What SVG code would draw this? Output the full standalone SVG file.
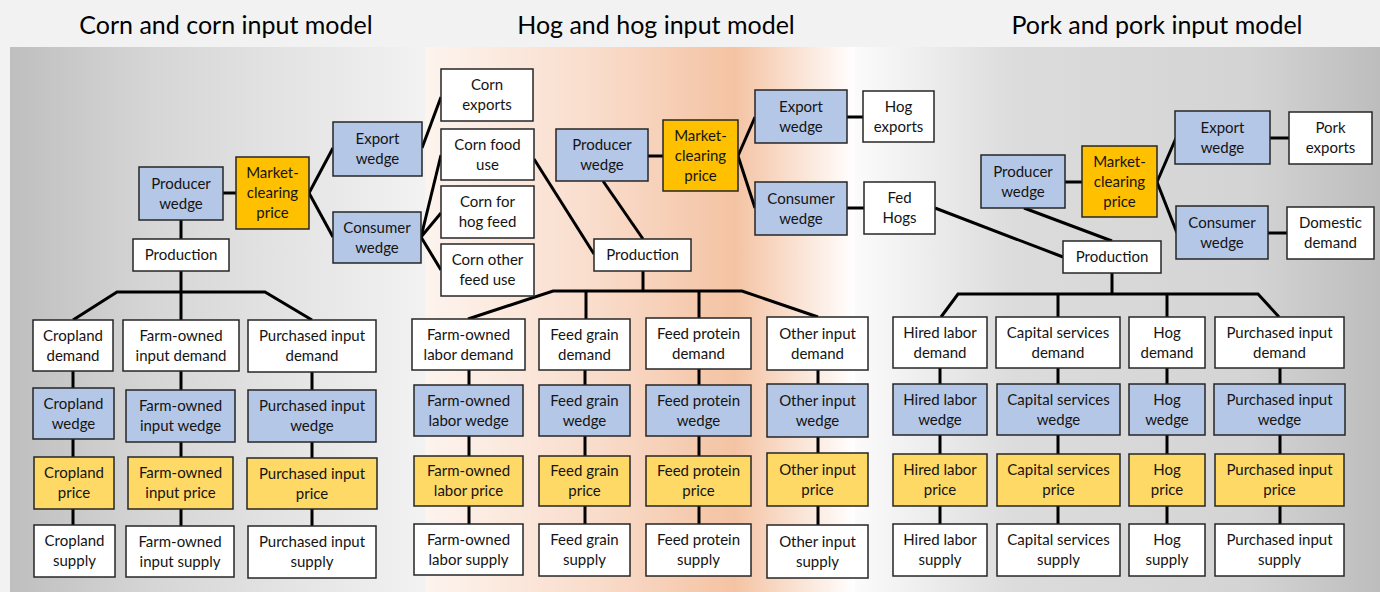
<svg xmlns="http://www.w3.org/2000/svg" width="1380" height="592" viewBox="0 0 1380 592">
<defs>
<linearGradient id="gL" x1="0" y1="0" x2="1" y2="0">
<stop offset="0" stop-color="#bfbfbf"/><stop offset="0.35" stop-color="#d6d6d6"/><stop offset="1" stop-color="#f2f2f2"/>
</linearGradient>
<linearGradient id="gM" x1="0" y1="0" x2="1" y2="0">
<stop offset="0" stop-color="#fdf4ee"/><stop offset="0.4" stop-color="#f9dccb"/><stop offset="0.72" stop-color="#f4c3a3"/><stop offset="1" stop-color="#ffffff"/>
</linearGradient>
<linearGradient id="gR" x1="0" y1="0" x2="1" y2="0">
<stop offset="0" stop-color="#fbfbfb"/><stop offset="0.3" stop-color="#dcdcdc"/><stop offset="0.75" stop-color="#d4d4d4"/><stop offset="1" stop-color="#bdbdbd"/>
</linearGradient>
</defs>
<style>
.bx rect{stroke:#262626;stroke-width:1.5}
.w rect{fill:#ffffff}
.b rect{fill:#b4c7e7}
.o rect{fill:#ffc000}
.y rect{fill:#ffd966}
text{font-family:Lato,"Open Sans",sans-serif;font-size:15px;text-anchor:middle;fill:#141414}
.title{font-size:25px;fill:#000}
#connectors line,#connectors polyline{stroke:#000;stroke-width:3;fill:none}
</style>
<rect x="0" y="0" width="1380" height="592" fill="#f2f2f2"/>
<rect x="10" y="47" width="415" height="545" fill="url(#gL)"/>
<rect x="425" y="47" width="430" height="545" fill="url(#gM)"/>
<rect x="855" y="47" width="525" height="545" fill="url(#gR)"/>
<text class="title" x="226" y="34">Corn and corn input model</text>
<text class="title" x="656" y="34">Hog and hog input model</text>
<text class="title" x="1157" y="34">Pork and pork input model</text>

<g id="connectors">
<!-- corn top -->
<line x1="223" y1="193" x2="236" y2="193"/>
<line x1="309" y1="193" x2="333" y2="148"/>
<line x1="309" y1="193" x2="333" y2="237"/>
<line x1="422" y1="148" x2="441" y2="97"/>
<line x1="421" y1="237" x2="441" y2="155"/>
<line x1="421" y1="237" x2="441" y2="213"/>
<line x1="421" y1="237" x2="441" y2="270"/>
<line x1="181" y1="220" x2="181" y2="239"/>
<line x1="181" y1="271" x2="181" y2="320"/>
<polyline points="73,320 117,292 265,292 312,320"/>
<!-- corn columns -->
<line x1="73" y1="371" x2="73" y2="388"/><line x1="73" y1="439" x2="73" y2="457"/><line x1="73" y1="509" x2="73" y2="525"/>
<line x1="181" y1="371" x2="181" y2="390"/><line x1="181" y1="442" x2="181" y2="457"/><line x1="181" y1="509" x2="181" y2="526"/>
<line x1="312" y1="372" x2="312" y2="390"/><line x1="312" y1="442" x2="312" y2="458"/><line x1="312" y1="509" x2="312" y2="526"/>
<!-- hog top -->
<line x1="648" y1="156" x2="663" y2="156"/>
<line x1="738" y1="156" x2="755" y2="117"/>
<line x1="738" y1="156" x2="755" y2="208"/>
<line x1="847" y1="117" x2="863" y2="117"/>
<line x1="847" y1="208" x2="864" y2="208"/>
<line x1="603" y1="181" x2="643" y2="239"/>
<line x1="534" y1="159" x2="594" y2="254"/>
<line x1="643" y1="271" x2="643" y2="291"/>
<polyline points="468,319 553,291 742,291 818,317"/>
<line x1="586" y1="291" x2="586" y2="319"/>
<line x1="699" y1="291" x2="699" y2="318"/>
<!-- hog columns -->
<line x1="469" y1="370" x2="469" y2="385"/><line x1="469" y1="436" x2="469" y2="456"/><line x1="469" y1="506" x2="469" y2="524"/>
<line x1="585" y1="370" x2="585" y2="385"/><line x1="585" y1="436" x2="585" y2="456"/><line x1="585" y1="506" x2="585" y2="524"/>
<line x1="699" y1="369" x2="699" y2="385"/><line x1="699" y1="436" x2="699" y2="456"/><line x1="699" y1="506" x2="699" y2="524"/>
<line x1="818" y1="370" x2="818" y2="384"/><line x1="818" y1="437" x2="818" y2="453"/><line x1="818" y1="506" x2="818" y2="525"/>
<!-- pork top -->
<line x1="1065" y1="182" x2="1082" y2="182"/>
<line x1="1157" y1="182" x2="1176" y2="138"/>
<line x1="1157" y1="182" x2="1177" y2="233"/>
<line x1="1270" y1="138" x2="1289" y2="138"/>
<line x1="1268" y1="233" x2="1287" y2="233"/>
<line x1="1024" y1="208" x2="1112" y2="241"/>
<line x1="935" y1="208" x2="1063" y2="257"/>
<line x1="1112" y1="273" x2="1112" y2="294"/>
<polyline points="941,317 958,294 1258,294 1279,317"/>
<line x1="1058" y1="294" x2="1058" y2="317"/>
<line x1="1167" y1="294" x2="1167" y2="317"/>
<!-- pork columns -->
<line x1="940" y1="368" x2="940" y2="384"/><line x1="940" y1="435" x2="940" y2="454"/><line x1="940" y1="506" x2="940" y2="524"/>
<line x1="1058" y1="368" x2="1058" y2="384"/><line x1="1058" y1="435" x2="1058" y2="454"/><line x1="1058" y1="506" x2="1058" y2="524"/>
<line x1="1167" y1="368" x2="1167" y2="384"/><line x1="1167" y1="435" x2="1167" y2="454"/><line x1="1167" y1="506" x2="1167" y2="524"/>
<line x1="1280" y1="368" x2="1280" y2="384"/><line x1="1280" y1="435" x2="1280" y2="454"/><line x1="1280" y1="506" x2="1280" y2="524"/>
</g>

<!-- CORN -->
<g id="corn-producer-wedge" class="bx b"><rect x="139" y="167" width="84" height="53"/><text><tspan x="181" y="188.5">Producer</tspan><tspan x="181" y="208.5">wedge</tspan></text></g>
<g id="corn-market-price" class="bx o"><rect x="236" y="157" width="73" height="72"/><text><tspan x="272.5" y="178">Market-</tspan><tspan x="272.5" y="198">clearing</tspan><tspan x="272.5" y="218">price</tspan></text></g>
<g id="corn-export-wedge" class="bx b"><rect x="333" y="122" width="89" height="54"/><text><tspan x="377.5" y="144">Export</tspan><tspan x="377.5" y="164">wedge</tspan></text></g>
<g id="corn-consumer-wedge" class="bx b"><rect x="333" y="212" width="88" height="51"/><text><tspan x="377" y="232.5">Consumer</tspan><tspan x="377" y="252.5">wedge</tspan></text></g>
<g id="corn-production" class="bx w"><rect x="133" y="239" width="96" height="32"/><text x="181" y="260">Production</text></g>
<g id="corn-exports" class="bx w"><rect x="441" y="69" width="92" height="52"/><text><tspan x="487" y="90">Corn</tspan><tspan x="487" y="110">exports</tspan></text></g>
<g id="corn-food-use" class="bx w"><rect x="441" y="129" width="93" height="51"/><text><tspan x="487.5" y="149.5">Corn food</tspan><tspan x="487.5" y="169.5">use</tspan></text></g>
<g id="corn-hog-feed" class="bx w"><rect x="441" y="186" width="93" height="52"/><text><tspan x="487.5" y="207">Corn for</tspan><tspan x="487.5" y="227">hog feed</tspan></text></g>
<g id="corn-other-feed" class="bx w"><rect x="441" y="244" width="93" height="52"/><text><tspan x="487.5" y="265">Corn other</tspan><tspan x="487.5" y="285">feed use</tspan></text></g>

<g id="cropland-demand" class="bx w"><rect x="33" y="320" width="80" height="51"/><text><tspan x="73" y="340.5">Cropland</tspan><tspan x="73" y="360.5">demand</tspan></text></g>
<g id="cropland-wedge" class="bx b"><rect x="33" y="388" width="81" height="51"/><text><tspan x="73.5" y="408.5">Cropland</tspan><tspan x="73.5" y="428.5">wedge</tspan></text></g>
<g id="cropland-price" class="bx y"><rect x="34" y="457" width="80" height="52"/><text><tspan x="74" y="478">Cropland</tspan><tspan x="74" y="498">price</tspan></text></g>
<g id="cropland-supply" class="bx w"><rect x="34" y="525" width="81" height="52"/><text><tspan x="74.5" y="546">Cropland</tspan><tspan x="74.5" y="566">supply</tspan></text></g>

<g id="farm-input-demand" class="bx w"><rect x="123" y="320" width="116" height="51"/><text><tspan x="181" y="340.5">Farm-owned</tspan><tspan x="181" y="360.5">input demand</tspan></text></g>
<g id="farm-input-wedge" class="bx b"><rect x="126" y="390" width="109" height="52"/><text><tspan x="180.5" y="411">Farm-owned</tspan><tspan x="180.5" y="431">input wedge</tspan></text></g>
<g id="farm-input-price" class="bx y"><rect x="128" y="457" width="105" height="52"/><text><tspan x="180.5" y="478">Farm-owned</tspan><tspan x="180.5" y="498">input price</tspan></text></g>
<g id="farm-input-supply" class="bx w"><rect x="126" y="526" width="108" height="51"/><text><tspan x="180" y="546.5">Farm-owned</tspan><tspan x="180" y="566.5">input supply</tspan></text></g>

<g id="corn-purch-demand" class="bx w"><rect x="248" y="320" width="128" height="52"/><text><tspan x="312" y="341">Purchased input</tspan><tspan x="312" y="361">demand</tspan></text></g>
<g id="corn-purch-wedge" class="bx b"><rect x="248" y="390" width="128" height="52"/><text><tspan x="312" y="411">Purchased input</tspan><tspan x="312" y="431">wedge</tspan></text></g>
<g id="corn-purch-price" class="bx y"><rect x="247" y="458" width="130" height="51"/><text><tspan x="312" y="478.5">Purchased input</tspan><tspan x="312" y="498.5">price</tspan></text></g>
<g id="corn-purch-supply" class="bx w"><rect x="248" y="526" width="128" height="52"/><text><tspan x="312" y="547">Purchased input</tspan><tspan x="312" y="567">supply</tspan></text></g>

<!-- HOG -->
<g id="hog-producer-wedge" class="bx b"><rect x="556" y="129" width="92" height="52"/><text><tspan x="602" y="150">Producer</tspan><tspan x="602" y="170">wedge</tspan></text></g>
<g id="hog-market-price" class="bx o"><rect x="663" y="120" width="75" height="71"/><text><tspan x="700.5" y="140.5">Market-</tspan><tspan x="700.5" y="160.5">clearing</tspan><tspan x="700.5" y="180.5">price</tspan></text></g>
<g id="hog-export-wedge" class="bx b"><rect x="755" y="90" width="92" height="53"/><text><tspan x="801" y="111.5">Export</tspan><tspan x="801" y="131.5">wedge</tspan></text></g>
<g id="hog-consumer-wedge" class="bx b"><rect x="755" y="182" width="92" height="53"/><text><tspan x="801" y="203.5">Consumer</tspan><tspan x="801" y="223.5">wedge</tspan></text></g>
<g id="hog-exports" class="bx w"><rect x="863" y="91" width="71" height="51"/><text><tspan x="898.5" y="111.5">Hog</tspan><tspan x="898.5" y="131.5">exports</tspan></text></g>
<g id="fed-hogs" class="bx w"><rect x="864" y="182" width="71" height="52"/><text><tspan x="899.5" y="203">Fed</tspan><tspan x="899.5" y="223">Hogs</tspan></text></g>
<g id="hog-production" class="bx w"><rect x="594" y="239" width="97" height="32"/><text x="642.5" y="260">Production</text></g>

<g id="farm-labor-demand" class="bx w"><rect x="412" y="319" width="113" height="51"/><text><tspan x="468.5" y="339.5">Farm-owned</tspan><tspan x="468.5" y="359.5">labor demand</tspan></text></g>
<g id="farm-labor-wedge" class="bx b"><rect x="414" y="385" width="109" height="51"/><text><tspan x="468.5" y="405.5">Farm-owned</tspan><tspan x="468.5" y="425.5">labor wedge</tspan></text></g>
<g id="farm-labor-price" class="bx y"><rect x="414" y="456" width="109" height="50"/><text><tspan x="468.5" y="476">Farm-owned</tspan><tspan x="468.5" y="496">labor price</tspan></text></g>
<g id="farm-labor-supply" class="bx w"><rect x="414" y="524" width="109" height="51"/><text><tspan x="468.5" y="544.5">Farm-owned</tspan><tspan x="468.5" y="564.5">labor supply</tspan></text></g>

<g id="feed-grain-demand" class="bx w"><rect x="539" y="319" width="91" height="51"/><text><tspan x="584.5" y="339.5">Feed grain</tspan><tspan x="584.5" y="359.5">demand</tspan></text></g>
<g id="feed-grain-wedge" class="bx b"><rect x="539" y="385" width="91" height="51"/><text><tspan x="584.5" y="405.5">Feed grain</tspan><tspan x="584.5" y="425.5">wedge</tspan></text></g>
<g id="feed-grain-price" class="bx y"><rect x="539" y="456" width="91" height="50"/><text><tspan x="584.5" y="476">Feed grain</tspan><tspan x="584.5" y="496">price</tspan></text></g>
<g id="feed-grain-supply" class="bx w"><rect x="539" y="524" width="91" height="52"/><text><tspan x="584.5" y="545">Feed grain</tspan><tspan x="584.5" y="565">supply</tspan></text></g>

<g id="feed-protein-demand" class="bx w"><rect x="646" y="318" width="105" height="51"/><text><tspan x="698.5" y="338.5">Feed protein</tspan><tspan x="698.5" y="358.5">demand</tspan></text></g>
<g id="feed-protein-wedge" class="bx b"><rect x="646" y="385" width="105" height="51"/><text><tspan x="698.5" y="405.5">Feed protein</tspan><tspan x="698.5" y="425.5">wedge</tspan></text></g>
<g id="feed-protein-price" class="bx y"><rect x="646" y="456" width="105" height="50"/><text><tspan x="698.5" y="476">Feed protein</tspan><tspan x="698.5" y="496">price</tspan></text></g>
<g id="feed-protein-supply" class="bx w"><rect x="646" y="524" width="105" height="52"/><text><tspan x="698.5" y="545">Feed protein</tspan><tspan x="698.5" y="565">supply</tspan></text></g>

<g id="other-input-demand" class="bx w"><rect x="767" y="317" width="101" height="53"/><text><tspan x="817.5" y="338.5">Other input</tspan><tspan x="817.5" y="358.5">demand</tspan></text></g>
<g id="other-input-wedge" class="bx b"><rect x="767" y="384" width="101" height="53"/><text><tspan x="817.5" y="405.5">Other input</tspan><tspan x="817.5" y="425.5">wedge</tspan></text></g>
<g id="other-input-price" class="bx y"><rect x="767" y="453" width="101" height="53"/><text><tspan x="817.5" y="474.5">Other input</tspan><tspan x="817.5" y="494.5">price</tspan></text></g>
<g id="other-input-supply" class="bx w"><rect x="767" y="525" width="101" height="53"/><text><tspan x="817.5" y="546.5">Other input</tspan><tspan x="817.5" y="566.5">supply</tspan></text></g>

<!-- PORK -->
<g id="pork-producer-wedge" class="bx b"><rect x="981" y="155" width="84" height="53"/><text><tspan x="1023" y="176.5">Producer</tspan><tspan x="1023" y="196.5">wedge</tspan></text></g>
<g id="pork-market-price" class="bx o"><rect x="1082" y="146" width="75" height="71"/><text><tspan x="1119.5" y="166.5">Market-</tspan><tspan x="1119.5" y="186.5">clearing</tspan><tspan x="1119.5" y="206.5">price</tspan></text></g>
<g id="pork-export-wedge" class="bx b"><rect x="1175" y="111" width="95" height="53"/><text><tspan x="1222.5" y="132.5">Export</tspan><tspan x="1222.5" y="152.5">wedge</tspan></text></g>
<g id="pork-consumer-wedge" class="bx b"><rect x="1176" y="206" width="92" height="53"/><text><tspan x="1222" y="227.5">Consumer</tspan><tspan x="1222" y="247.5">wedge</tspan></text></g>
<g id="pork-exports" class="bx w"><rect x="1289" y="112" width="83" height="52"/><text><tspan x="1330.5" y="133">Pork</tspan><tspan x="1330.5" y="153">exports</tspan></text></g>
<g id="domestic-demand" class="bx w"><rect x="1287" y="207" width="87" height="52"/><text><tspan x="1330.5" y="228">Domestic</tspan><tspan x="1330.5" y="248">demand</tspan></text></g>
<g id="pork-production" class="bx w"><rect x="1063" y="241" width="98" height="32"/><text x="1112" y="262">Production</text></g>

<g id="hired-labor-demand" class="bx w"><rect x="893" y="317" width="94" height="51"/><text><tspan x="940" y="337.5">Hired labor</tspan><tspan x="940" y="357.5">demand</tspan></text></g>
<g id="hired-labor-wedge" class="bx b"><rect x="893" y="384" width="94" height="51"/><text><tspan x="940" y="404.5">Hired labor</tspan><tspan x="940" y="424.5">wedge</tspan></text></g>
<g id="hired-labor-price" class="bx y"><rect x="893" y="454" width="94" height="52"/><text><tspan x="940" y="475">Hired labor</tspan><tspan x="940" y="495">price</tspan></text></g>
<g id="hired-labor-supply" class="bx w"><rect x="893" y="524" width="94" height="52"/><text><tspan x="940" y="545">Hired labor</tspan><tspan x="940" y="565">supply</tspan></text></g>

<g id="capital-demand" class="bx w"><rect x="996" y="317" width="124" height="51"/><text><tspan x="1058" y="337.5">Capital services</tspan><tspan x="1058" y="357.5">demand</tspan></text></g>
<g id="capital-wedge" class="bx b"><rect x="997" y="384" width="123" height="51"/><text><tspan x="1058.5" y="404.5">Capital services</tspan><tspan x="1058.5" y="424.5">wedge</tspan></text></g>
<g id="capital-price" class="bx y"><rect x="997" y="454" width="123" height="52"/><text><tspan x="1058.5" y="475">Capital services</tspan><tspan x="1058.5" y="495">price</tspan></text></g>
<g id="capital-supply" class="bx w"><rect x="997" y="524" width="123" height="52"/><text><tspan x="1058.5" y="545">Capital services</tspan><tspan x="1058.5" y="565">supply</tspan></text></g>

<g id="hog-demand" class="bx w"><rect x="1129" y="317" width="76" height="51"/><text><tspan x="1167" y="337.5">Hog</tspan><tspan x="1167" y="357.5">demand</tspan></text></g>
<g id="hog-wedge" class="bx b"><rect x="1129" y="384" width="76" height="51"/><text><tspan x="1167" y="404.5">Hog</tspan><tspan x="1167" y="424.5">wedge</tspan></text></g>
<g id="hog-price" class="bx y"><rect x="1129" y="454" width="76" height="52"/><text><tspan x="1167" y="475">Hog</tspan><tspan x="1167" y="495">price</tspan></text></g>
<g id="hog-supply" class="bx w"><rect x="1129" y="524" width="76" height="52"/><text><tspan x="1167" y="545">Hog</tspan><tspan x="1167" y="565">supply</tspan></text></g>

<g id="pork-purch-demand" class="bx w"><rect x="1215" y="317" width="129" height="51"/><text><tspan x="1279.5" y="337.5">Purchased input</tspan><tspan x="1279.5" y="357.5">demand</tspan></text></g>
<g id="pork-purch-wedge" class="bx b"><rect x="1214" y="384" width="131" height="51"/><text><tspan x="1279.5" y="404.5">Purchased input</tspan><tspan x="1279.5" y="424.5">wedge</tspan></text></g>
<g id="pork-purch-price" class="bx y"><rect x="1215" y="454" width="129" height="52"/><text><tspan x="1279.5" y="475">Purchased input</tspan><tspan x="1279.5" y="495">price</tspan></text></g>
<g id="pork-purch-supply" class="bx w"><rect x="1215" y="524" width="129" height="52"/><text><tspan x="1279.5" y="545">Purchased input</tspan><tspan x="1279.5" y="565">supply</tspan></text></g>
</svg>
